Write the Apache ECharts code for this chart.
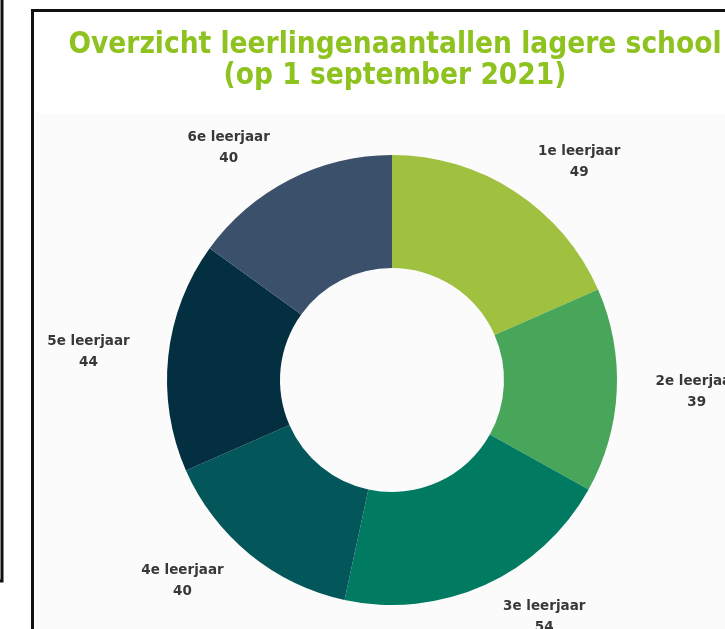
<!DOCTYPE html>
<html>
<head>
<meta charset="utf-8">
<script src="https://cdn.jsdelivr.net/npm/echarts@6/dist/echarts.min.js"></script>
<style>
html,body{margin:0;padding:0;background:#fff;}
#chart{width:725px;height:629px;}
</style>
</head>
<body>
<div id="chart"></div>
<script>
var categories = ['1e leerjaar','2e leerjaar','3e leerjaar','4e leerjaar','5e leerjaar','6e leerjaar'];
var values = [49, 39, 54, 40, 44, 40];
var colors = ['#9fc13f','#47a659','#007b61','#03565a','#032f40','#3a506b'];
var titleText = 'Overzicht leerlingenaantallen lagere school\n(op 1 september 2021)';

var chart = echarts.init(document.getElementById('chart'), null, {renderer:'canvas'});
var data = categories.map(function(c,i){ return {name:c, value:values[i], itemStyle:{color:colors[i]}}; });

chart.setOption({
  animation:false,
  backgroundColor:'#ffffff',
  graphic:[
    {type:'rect', shape:{x:35, y:113, width:690, height:516}, style:{fill:'#fbfbfb'}, z:-10},
    {type:'polyline', shape:{points:[[2,0],[2,581],[0,581]]}, style:{stroke:'#111', lineWidth:3, fill:null}},
    {type:'polyline', shape:{points:[[32.5,629],[32.5,10.5],[725,10.5]]}, style:{stroke:'#111', lineWidth:3, fill:null}}
  ],
  title:{
    text:titleText,
    left:390, top:25, textAlign:'center',
    textStyle:{fontFamily:'DejaVu Sans Condensed', fontWeight:'bold', fontSize:29.5, color:'#8dc21f', lineHeight:31}
  },
  series:[{
    type:'pie',
    center:[392,380],
    radius:[112,225],
    startAngle:90,
    clockwise:true,
    avoidLabelOverlap:false,
    data:data,
    label:{
      show:true,
      position:'outside',
      formatter:'{b}\n{c}',
      fontFamily:'DejaVu Sans',
      fontWeight:'bold',
      fontSize:13.5,
      lineHeight:21,
      color:'#383838',
      distanceToLabelLine:0
    },
    labelLine:{show:false, length:35, length2:45},
    labelLayout:function(){ return {align:'center', verticalAlign:'middle'}; }
  }]
});
</script>
</body>
</html>
